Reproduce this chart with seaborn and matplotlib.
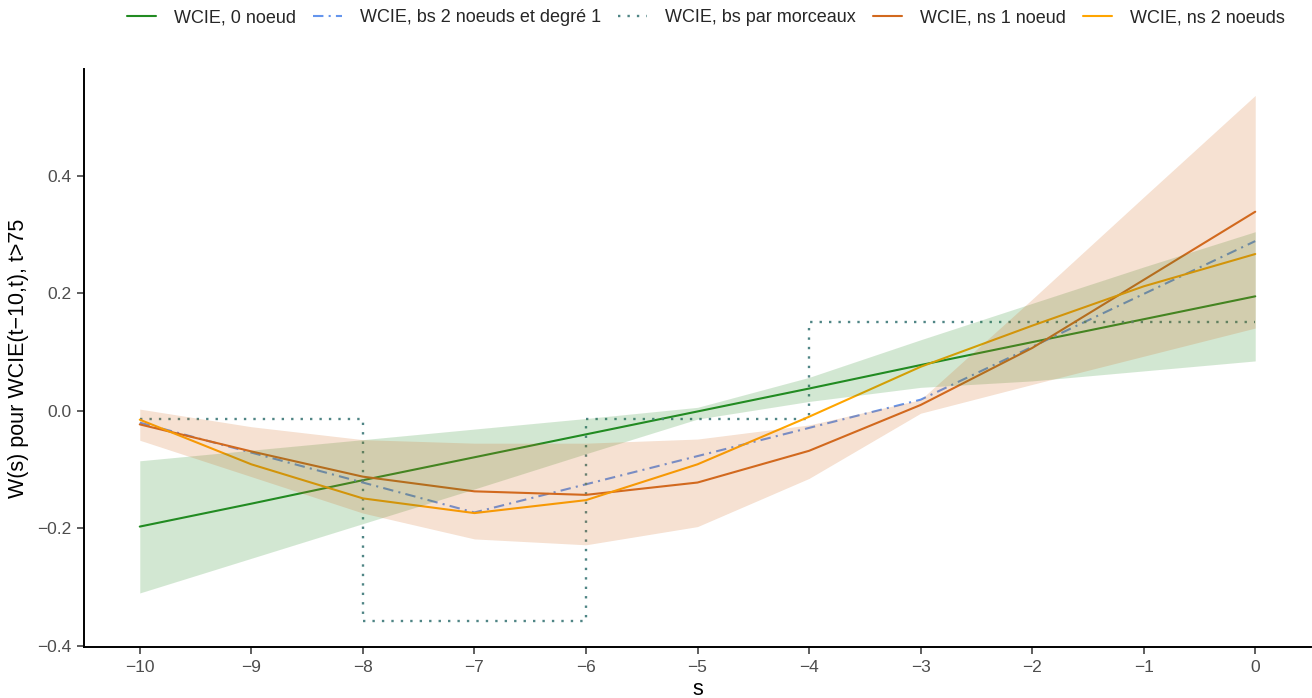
import numpy as np
import pandas as pd
import matplotlib
matplotlib.use("Agg")
import matplotlib.pyplot as plt
import seaborn as sns

# values
s = [-10, -9, -8, -7, -6, -5, -4, -3, -2, -1, 0]

w_0noeud = [-0.197, -0.158, -0.118, -0.079, -0.040, -0.001, 0.038, 0.078, 0.117, 0.156, 0.195]
w_0noeud_low = [-0.310, -0.251, -0.192, -0.133, -0.073, -0.014, 0.016, 0.040, 0.051, 0.068, 0.085]
w_0noeud_high = [-0.085, -0.067, -0.049, -0.031, -0.013, 0.006, 0.057, 0.121, 0.183, 0.245, 0.305]

w_bs2 = [-0.020, -0.071, -0.122, -0.173, -0.125, -0.077, -0.029, 0.019, 0.109, 0.199, 0.289]

w_bs_morceaux = [-0.013, -0.013, -0.358, -0.358, -0.013, -0.013, 0.152, 0.152, 0.152, 0.152, 0.152]

w_ns1 = [-0.023, -0.069, -0.112, -0.137, -0.143, -0.122, -0.068, 0.010, 0.107, 0.223, 0.339]
w_ns1_low = [-0.050, -0.112, -0.174, -0.218, -0.228, -0.197, -0.115, -0.004, 0.045, 0.093, 0.141]
w_ns1_high = [0.003, -0.027, -0.049, -0.055, -0.055, -0.048, -0.024, 0.019, 0.190, 0.364, 0.537]

w_ns2 = [-0.015, -0.091, -0.149, -0.174, -0.152, -0.091, -0.010, 0.075, 0.145, 0.212, 0.267]

labels = ["WCIE, 0 noeud", "WCIE, bs 2 noeuds et degré 1", "WCIE, bs par morceaux",
          "WCIE, ns 1 noeud", "WCIE, ns 2 noeuds"]
yticks = [-0.4, -0.2, 0.0, 0.2, 0.4]
ytick_labels = ["\u22120.4", "\u22120.2", "0.0", "0.2", "0.4"]
xticks = s

sns.set_theme(style="ticks")
plt.rcParams["font.family"] = ["Liberation Sans", "DejaVu Sans"]

fig = plt.figure(figsize=(13.12, 6.98), dpi=100)
ax = fig.add_axes([84 / 1312, 51 / 698, 1 - 84 / 1312 - 1 / 1312, (647 - 69) / 698])

lw = 1.5
sns.lineplot(x=s, y=w_0noeud, ax=ax, color="#228B22", lw=lw, label=labels[0], zorder=2)
sns.lineplot(x=s, y=w_bs2, ax=ax, color="#6495ED", lw=lw, label=labels[1], zorder=2,
             linestyle=(0, (5, 2.5, 1, 2.5)))
sns.lineplot(x=s, y=w_bs_morceaux, ax=ax, color="#4F8585", lw=1.7, label=labels[2], zorder=2,
             linestyle=(0, (1, 3)), drawstyle="steps-post")
sns.lineplot(x=s, y=w_ns1, ax=ax, color="#D2691E", lw=lw, label=labels[3], zorder=2)
sns.lineplot(x=s, y=w_ns2, ax=ax, color="#FFA500", lw=lw, label=labels[4], zorder=2)

# confidence ribbons drawn over the lines
ax.fill_between(s, w_0noeud_low, w_0noeud_high, color="#228B22", alpha=0.2, lw=0, zorder=3)
ax.fill_between(s, w_ns1_low, w_ns1_high, color="#D2691E", alpha=0.2, lw=0, zorder=3)

ax.set_xlim(-10.5, 0.5)
ax.set_ylim(-0.402, 0.582)
ax.set_xticks(xticks)
ax.set_yticks(yticks)
ax.set_yticklabels(ytick_labels)
ax.tick_params(axis="both", labelsize=12.5, labelcolor="#4D4D4D", color="#333333",
               length=5, width=1.1, pad=4)
ax.set_xlabel("s", fontsize=15.5, color="black", labelpad=3)
ax.set_ylabel("W(s) pour WCIE(t\u221210,t), t>75", fontsize=15.5, color="black", labelpad=6)
sns.despine(ax=ax)
for side in ["left", "bottom"]:
    ax.spines[side].set_color("black")
    ax.spines[side].set_linewidth(1.4)

handles, labs = ax.get_legend_handles_labels()
ax.legend_.remove()
fig.legend(handles, labs, loc="center", bbox_to_anchor=(706 / 1312, 1 - 18 / 698),
           ncol=5, frameon=False, fontsize=13, handlelength=1.6, handletextpad=1.0,
           columnspacing=0.95)

fig.savefig("out.png", dpi=100)
